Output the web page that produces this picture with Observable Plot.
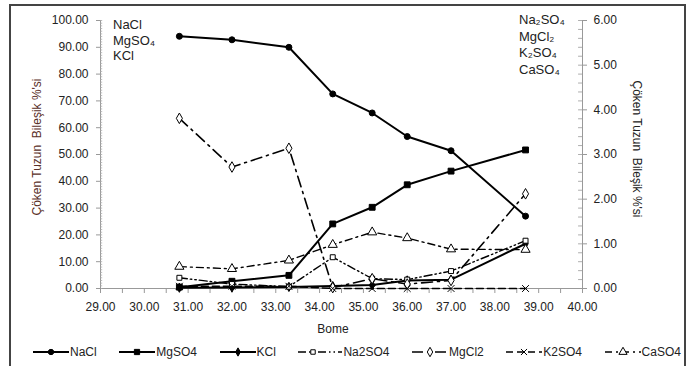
<!DOCTYPE html>
<html><head><meta charset="utf-8">
<script src="https://cdn.jsdelivr.net/npm/d3@7"></script>
<script src="https://cdn.jsdelivr.net/npm/@observablehq/plot@0.6"></script>
<style>
body{margin:0;width:694px;height:366px;overflow:hidden;background:#fff;font-family:"Liberation Sans",Arial,sans-serif;}
#wrap{position:relative;width:694px;height:366px;}
#chart{position:absolute;left:0;top:0;}
#frame{position:absolute;left:9px;top:4px;width:677px;height:372px;border:2px solid #444;box-sizing:border-box;pointer-events:none;}
.lbl{position:absolute;font-size:13px;color:#222;line-height:15.5px;}
.ttl{position:absolute;font-size:12px;white-space:pre;transform:translate(-50%,-50%);}
#legend{position:absolute;left:33px;top:345px;width:648px;display:flex;justify-content:space-between;align-items:center;font-size:12px;color:#222;}
#legend .it{display:flex;align-items:center;gap:1px;}
</style></head>
<body><div id="wrap">
<div id="chart"></div>
<div class="lbl" style="left:113px;top:17px;">NaCl<br>MgSO₄<br>KCl</div>
<div class="lbl" style="left:519px;top:12px;line-height:16.5px;">Na₂SO₄<br>MgCl₂<br>K₂SO₄<br>CaSO₄</div>
<div class="ttl" style="left:37px;top:147px;transform:translate(-50%,-50%) rotate(-90deg);color:#5a3028;">Çöken Tuzun  Bileşik %'si</div>
<div class="ttl" style="left:637px;top:149px;transform:translate(-50%,-50%) rotate(90deg);color:#222;">Çöken Tuzun  Bileşik %'si</div>
<div class="ttl" style="left:333px;top:329px;color:#222;">Bome</div>
<div id="legend"></div>
<div id="frame"></div>
</div>
<script>
// ---- data ----
const bome   = [30.8, 32.0, 33.3, 34.3, 35.2, 36.0, 37.0, 38.7];
// left axis (%)
const NaCl   = [94.1, 92.8, 90.0, 72.6, 65.5, 56.7, 51.4, 27.0];
const MgSO4  = [0.5, 2.7, 4.9, 24.1, 30.3, 38.7, 43.8, 51.7];
const KCl    = [0.3, 0.4, 0.6, 0.9, 1.3, 3.0, 3.3, 16.7];
// right axis (%)
const Na2SO4 = [0.24, 0.10, 0.04, 0.70, 0.22, 0.20, 0.39, 1.07];
const MgCl2  = [3.81, 2.72, 3.14, 0.02, 0.22, 0.10, 0.18, 2.12];
const K2SO4  = [0.05, 0.05, 0.05, 0.0, 0.0, 0.0, 0.0, 0.0];
const CaSO4  = [0.49, 0.44, 0.63, 0.98, 1.26, 1.13, 0.88, 0.87];
const leftTicks  = [0, 10, 20, 30, 40, 50, 60, 70, 80, 90, 100];
const rightTicks = [0, 1, 2, 3, 4, 5, 6];
const xTicks     = [29, 30, 31, 32, 33, 34, 35, 36, 37, 38, 39, 40];

// ---- series config ----
const R = 100 / 6; // right-axis factor
const series = [
  {name:"NaCl",   values:NaCl,   k:1, dash:null,              w:2,   sym:"circle",   fill:"black", r:3},
  {name:"MgSO4",  values:MgSO4,  k:1, dash:null,              w:2,   sym:"square",   fill:"black", r:3.3},
  {name:"KCl",    values:KCl,    k:1, dash:null,              w:2,   sym:"diamond",  fill:"black", r:2.8},
  {name:"Na2SO4", values:Na2SO4, k:R, dash:"8,3,1.5,3,1.5,3", w:1.4, sym:"square",   fill:"white", r:2.8},
  {name:"MgCl2",  values:MgCl2,  k:R, dash:"11,5,2,5",        w:1.6, sym:"diamond",  fill:"white", r:3.2},
  {name:"K2SO4",  values:K2SO4,  k:R, dash:"7,4",             w:1.6, sym:"times",    fill:"none",  r:3.2},
  {name:"CaSO4",  values:CaSO4,  k:R, dash:"7,4,2,4",         w:1.4, sym:"triangle", fill:"white", r:3.4}
];

const marks = [];
// axis lines
marks.push(Plot.ruleY([0], {stroke:"#999"}));
marks.push(Plot.ruleX([29], {stroke:"#999"}));
marks.push(Plot.ruleX([40], {stroke:"#999"}));
// minor ticks
marks.push(Plot.ruleY(d3.range(0, 101, 1), {x1: 29, x2: 29.05, stroke:"#aaa", strokeWidth:0.8}));
marks.push(Plot.ruleY(d3.range(0, 30.5, 1).map(v => v * 0.2 * R), {x1: 39.91, x2: 40, stroke:"#999", strokeWidth:0.8}));
// axes
marks.push(Plot.axisY(leftTicks, {anchor:"left", tickSize:4, tickPadding:8, tickFormat:d => d.toFixed(2), stroke:"#999", fill:"#222", label:null}));
marks.push(Plot.axisY(rightTicks.map(v => v * R), {anchor:"right", tickSize:4, tickPadding:7, tickFormat:d => (d / R).toFixed(2), stroke:"#999", fill:"#222", label:null}));
marks.push(Plot.axisX(d3.range(29, 40.01, 0.5), {tickSize:5, tickFormat:() => "", stroke:"#999", label:null}));
marks.push(Plot.axisX(xTicks, {tickSize:0, tickPadding:14, tickFormat:d => d.toFixed(2), fill:"#222", label:null}));

for (const s of series) {
  const rows = bome.map((b, i) => ({x:b, y:s.values[i] * s.k}));
  marks.push(Plot.line(rows, {x:"x", y:"y", stroke:"black", strokeWidth:s.w, strokeDasharray:s.dash}));
}
for (const s of series) {
  const rows = bome.map((b, i) => ({x:b, y:s.values[i] * s.k}));
  marks.push(Plot.dot(rows, {x:"x", y:"y", symbol:s.sym, r:s.r, fill:s.fill, stroke:"black", strokeWidth:1}));
}

const chart = Plot.plot({
  width: 694, height: 340,
  marginLeft: 100, marginRight: 112, marginTop: 20, marginBottom: 52,
  x: {domain:[29, 40]},
  y: {domain:[0, 100]},
  style: {fontSize:"12px", fontFamily:"'Liberation Sans', Arial, sans-serif", background:"transparent"},
  marks
});
document.getElementById("chart").appendChild(chart);

// ---- legend ----
const symMap = {circle:d3.symbolCircle, square:d3.symbolSquare, diamond:d3.symbolDiamond, triangle:d3.symbolTriangle, times:d3.symbolTimes};
const leg = d3.select("#legend");
for (const s of series) {
  const it = leg.append("div").attr("class", "it");
  const w = s.name === "Na2SO4" ? 44 : 36;
  const svg = it.append("svg").attr("width", w).attr("height", 12);
  svg.append("line").attr("x1", 0).attr("x2", w).attr("y1", 6).attr("y2", 6)
    .attr("stroke", "black").attr("stroke-width", s.w).attr("stroke-dasharray", s.dash);
  svg.append("path").attr("transform", `translate(${w === 44 ? 15 : 18},6)`)
    .attr("d", d3.symbol().type(symMap[s.sym]).size(Math.PI * s.r * s.r * 0.8)())
    .attr("fill", s.fill).attr("stroke", "black").attr("stroke-width", 1);
  it.append("span").text(s.name);
}
</script>
</body></html>
